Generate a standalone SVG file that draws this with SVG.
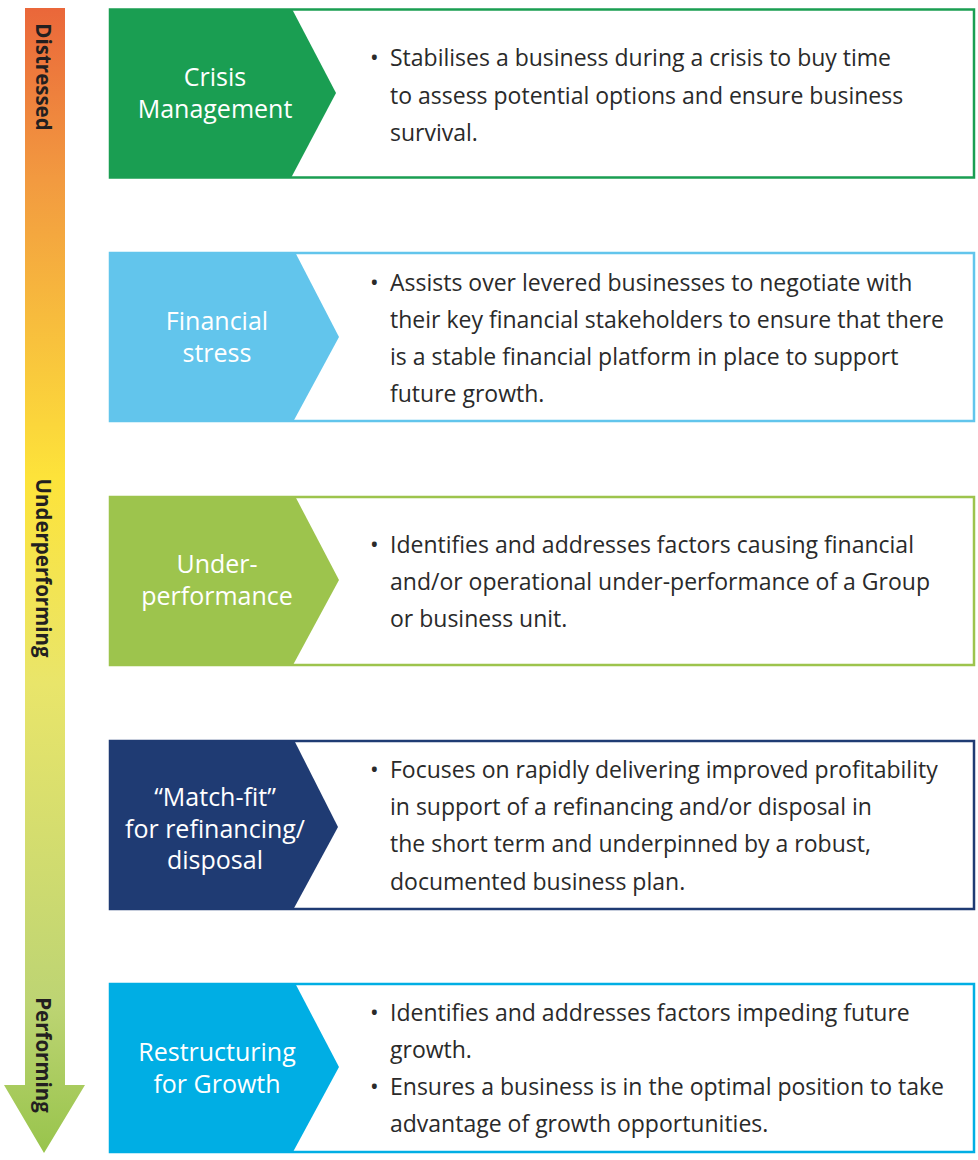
<svg xmlns="http://www.w3.org/2000/svg" width="978" height="1160" viewBox="0 0 978 1160">
  <defs>
    <linearGradient id="scale" gradientUnits="userSpaceOnUse" x1="0" y1="8" x2="0" y2="1153">
      <stop offset="0" stop-color="#EA673A"/>
      <stop offset="0.15" stop-color="#F29A40"/>
      <stop offset="0.41" stop-color="#FDE33A"/>
      <stop offset="0.59" stop-color="#E9E56A"/>
      <stop offset="0.87" stop-color="#BDD473"/>
      <stop offset="1" stop-color="#98C44C"/>
    </linearGradient>
  </defs>
  <style>
    .frame { fill: #FFFFFF; stroke-width: 2.5; }
    .lab { font-family: "Open Sans", "Noto Sans", sans-serif; font-size: 25px; fill: #FFFFFF; text-anchor: middle; }
    .body { font-family: "Open Sans", "Noto Sans", sans-serif; font-size: 23px; fill: #2A2A2A; }
    .scale { font-family: "Open Sans", "Noto Sans", sans-serif; font-size: 20.5px; font-weight: bold; fill: #231F20; text-anchor: middle; dominant-baseline: central; }
  </style>
  <rect width="978" height="1160" fill="#FFFFFF"/>

  <g id="scale-arrow">
    <path d="M25,8 H65 V1085 H85 L44,1153 L4,1085 H25 Z" fill="url(#scale)"/>
    <text class="scale" transform="translate(44,77) rotate(90)">Distressed</text>
    <text class="scale" transform="translate(44,568) rotate(90)">Underperforming</text>
    <text class="scale" transform="translate(44,1055) rotate(90)">Performing</text>
  </g>

  <g id="crisis-management">
    <rect class="frame" x="110" y="9.5" width="864" height="168" stroke="#1A9E52"/>
    <polygon points="110,9 292,9 336,93 291,178 110,178" fill="#1A9E52"/>
    <text class="lab"><tspan x="215" y="86">Crisis</tspan><tspan x="215" y="118">Management</tspan></text>
    <text class="body"><tspan x="370" y="66">•</tspan><tspan x="390" y="66">Stabilises a business during a crisis to buy time</tspan><tspan x="390" y="104">to assess potential options and ensure business</tspan><tspan x="390" y="141">survival.</tspan></text>
  </g>

  <g id="financial-stress">
    <rect class="frame" x="110" y="253" width="864" height="168" stroke="#62C5EC"/>
    <polygon points="110,252 295,252 339,337 293,422 110,422" fill="#62C5EC"/>
    <text class="lab"><tspan x="217" y="330">Financial</tspan><tspan x="217" y="362">stress</tspan></text>
    <text class="body"><tspan x="370" y="291">•</tspan><tspan x="390" y="291">Assists over levered businesses to negotiate with</tspan><tspan x="390" y="328">their key financial stakeholders to ensure that there</tspan><tspan x="390" y="365">is a stable financial platform in place to support</tspan><tspan x="390" y="402">future growth.</tspan></text>
  </g>

  <g id="under-performance">
    <rect class="frame" x="110" y="497" width="864" height="168" stroke="#9DC44D"/>
    <polygon points="110,496 295,496 339,580 293,665 110,665" fill="#9DC44D"/>
    <text class="lab"><tspan x="217" y="573">Under-</tspan><tspan x="217" y="605">performance</tspan></text>
    <text class="body"><tspan x="370" y="553">•</tspan><tspan x="390" y="553">Identifies and addresses factors causing financial</tspan><tspan x="390" y="590">and/or operational under-performance of a Group</tspan><tspan x="390" y="627">or business unit.</tspan></text>
  </g>

  <g id="match-fit">
    <rect class="frame" x="110" y="741" width="864" height="168" stroke="#1F3B73"/>
    <polygon points="110,740 294,740 338,827 293,910 110,910" fill="#1F3B73"/>
    <text class="lab"><tspan x="215" y="806">“Match-fit”</tspan><tspan x="215" y="838">for refinancing/</tspan><tspan x="215" y="869">disposal</tspan></text>
    <text class="body"><tspan x="370" y="778">•</tspan><tspan x="390" y="778">Focuses on rapidly delivering improved profitability</tspan><tspan x="390" y="815">in support of a refinancing and/or disposal in</tspan><tspan x="390" y="852">the short term and underpinned by a robust,</tspan><tspan x="390" y="890">documented business plan.</tspan></text>
  </g>

  <g id="restructuring-for-growth">
    <rect class="frame" x="110" y="984" width="864" height="168" stroke="#00AEE4"/>
    <polygon points="110,983 295,983 339,1067 293,1152 110,1152" fill="#00AEE4"/>
    <text class="lab"><tspan x="217" y="1061">Restructuring</tspan><tspan x="217" y="1093">for Growth</tspan></text>
    <text class="body"><tspan x="370" y="1021">•</tspan><tspan x="390" y="1021">Identifies and addresses factors impeding future</tspan><tspan x="390" y="1058">growth.</tspan><tspan x="370" y="1095">•</tspan><tspan x="390" y="1095">Ensures a business is in the optimal position to take</tspan><tspan x="390" y="1132">advantage of growth opportunities.</tspan></text>
  </g>
</svg>
